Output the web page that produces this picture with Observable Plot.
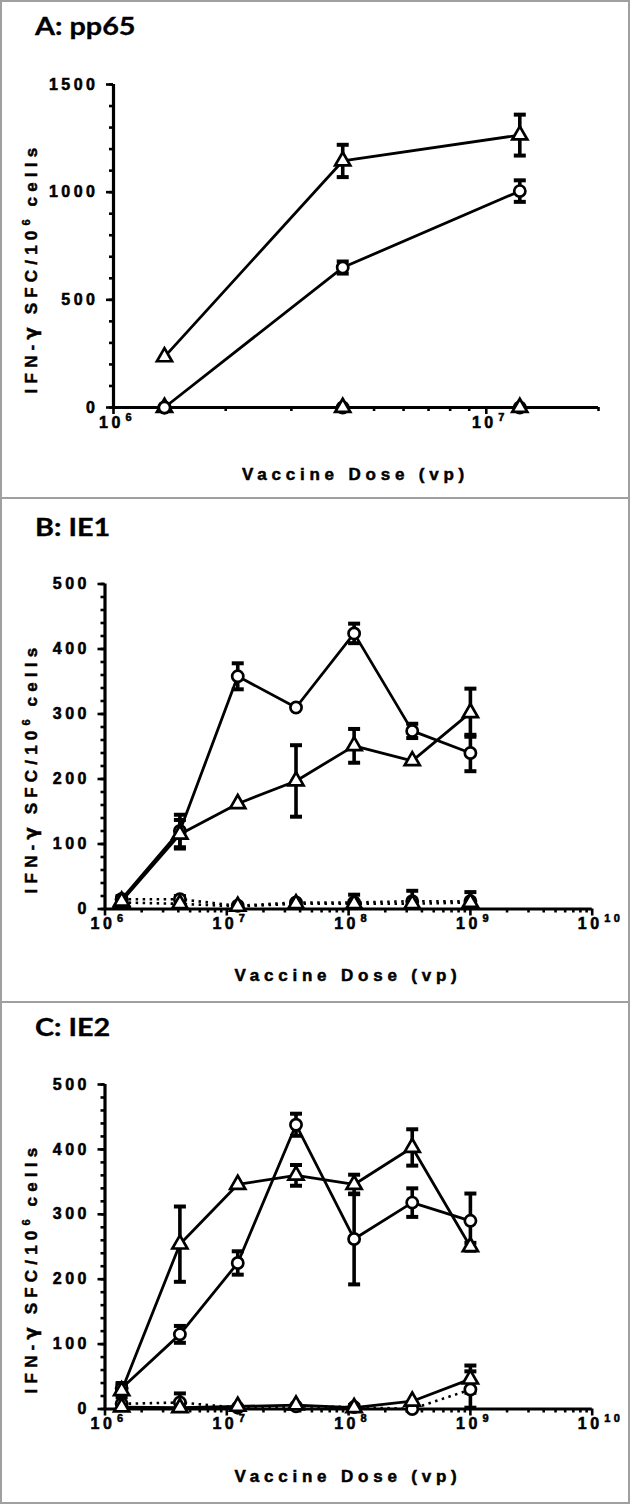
<!DOCTYPE html>
<html>
<head>
<meta charset="utf-8">
<script src="https://cdn.jsdelivr.net/npm/d3@7"></script>
<script src="https://cdn.jsdelivr.net/npm/@observablehq/plot@0.6"></script>
<style>
  body { margin: 0; background: #fff; }
  #page { position: relative; width: 630px; height: 1504px; overflow: hidden; background: #fff; }
  .bd { position: absolute; background: #a0a0a0; }
  .title { position: absolute; font-family: Lato, sans-serif; font-weight: 700; font-size: 24px; line-height: 24px;
           transform-origin: 0 0; transform: scaleX(1.2); white-space: nowrap; color: #000; -webkit-text-stroke: 0.3px #000; }
  .xlab { position: absolute; font-family: "Liberation Sans", Arial, sans-serif; font-weight: 700; font-size: 17px;
          letter-spacing: 4.8px; white-space: nowrap; transform: translate(-50%, -50%); line-height: 17px; color: #000;
          -webkit-text-stroke: 0.5px #000; }
  .ylab { position: absolute; font-family: "Liberation Sans", Arial, sans-serif; font-weight: 700; font-size: 17px;
          letter-spacing: 5.2px; white-space: nowrap; transform: translate(-50%, -50%) rotate(-90deg); line-height: 17px; color: #000;
          -webkit-text-stroke: 0.5px #000; }
  .ylab sup { font-size: 11px; letter-spacing: 3px; vertical-align: 7px; line-height: 0; }
  .ylab .g { font-family: "DejaVu Sans", sans-serif; font-weight: 700; font-size: 18px; letter-spacing: 3px; }
  .psvg { position: absolute; left: 0; }
  .psvg svg text { font-weight: bold; stroke: #000; stroke-width: 0.55px; paint-order: stroke; }
</style>
</head>
<body>
<div id="page"></div>
<script>
// ---------------- DATA ----------------
const doses = [1.37e6, 4.12e6, 1.23e7, 3.7e7, 1.11e8, 3.33e8, 1e9];

// Panel A: pp65
const aCircle        = [0, 650, 1005];
const aCircleErr     = [0, 28, 50];
const aTriangle      = [235, 1145, 1265];
const aTriangleErr   = [0, 75, 95];
const aCircleCtrl    = [0, 0, 0];
const aTriangleCtrl  = [0, 0, 0];

// Panel B: IE1
const bCircle        = [15, 120, 358, 310, 424, 274, 240];
const bCircleErr     = [5, 25, 20, 0, 15, 11, 28];
const bTriangle      = [12, 115, 162, 197, 251, 228, 302];
const bTriangleErr   = [0, 22, 0, 55, 26, 0, 37];
const bCircleCtrl    = [15, 15, 5, 10, 10, 12, 12];
const bCircleCtrlErr = [4, 5, 0, 0, 12, 16, 14];
const bTriangleCtrl  = [10, 8, 4, 8, 8, 8, 10];

// Panel C: IE2
const cCircle        = [32, 115, 225, 438, 262, 318, 290];
const cCircleErr     = [8, 13, 18, 17, 70, 22, 42];
const cTriangle      = [28, 254, 346, 360, 346, 403, 250];
const cTriangleErr   = [10, 58, 0, 16, 15, 28, 6];
const cTriangleLow   = [3, 2, 4, 6, 2, 12, 46];
const cTriangleLowErr= [0, 0, 0, 0, 0, 0, 21];
const cCircleLow     = [8, 10, 2, 4, 3, 0, 30];
const cCircleLowErr  = [0, 14, 0, 0, 3, 0, 28];

// Tick labels
const xExpA  = [6, 7];
const xExpBC = [6, 7, 8, 9, 10];
const yTicksA  = [0, 500, 1000, 1500];
const yTicksBC = [0, 100, 200, 300, 400, 500];

const titles = ["A: pp65", "B: IE1", "C: IE2"];
const xTitle = "Vaccine Dose (vp)";

// ---------------- DRAWING ----------------
const page = document.getElementById("page");

function addDiv(cls, style, html) {
  const d = document.createElement("div");
  d.className = cls;
  Object.assign(d.style, style);
  if (html != null) d.innerHTML = html;
  page.appendChild(d);
  return d;
}

const cap = { draw(ctx) { ctx.moveTo(-6, -2); ctx.lineTo(6, -2); ctx.lineTo(6, 2); ctx.lineTo(-6, 2); ctx.closePath(); } };

function makePanel(cfg) {
  const { svgTop, height, ml, mr, mt, mb, xDomain, xExp, yMax, yMajor, yMinorStep, series } = cfg;
  const xMajor = xExp.map(e => Math.pow(10, e));
  const xMinor = [];
  for (let e = xExp[0]; e <= xExp[xExp.length - 1]; e++) {
    for (let k = 2; k <= 9; k++) {
      const v = k * Math.pow(10, e);
      if (v <= xDomain[1] * 1.0001) xMinor.push(v);
    }
  }
  const yMinor = d3.range(0, yMax + 0.1, yMinorStep);
  const rows = s => s.values.map((v, i) => ({ dose: doses[i], value: v, err: s.errs ? s.errs[i] : 0 }));

  const marks = [];
  marks.push(Plot.axisY({ ticks: yMinor, tickSize: 4, tickFormat: () => "", strokeWidth: 2.6, label: null }));
  marks.push(Plot.axisY({ ticks: yMajor, tickSize: 7, tickFormat: () => "", strokeWidth: 2.6, label: null }));
  marks.push(Plot.axisX({ ticks: xMinor, tickSize: 4, tickFormat: () => "", strokeWidth: 2.6, label: null }));
  marks.push(Plot.axisX({ ticks: xMajor, tickSize: 7, tickFormat: () => "", strokeWidth: 2.6, label: null }));
  // y tick labels
  marks.push(Plot.text(yMajor, { y: d => d, frameAnchor: "left", dx: -15, textAnchor: "end", text: d => String(d),
                                 fontSize: 16, fontWeight: "bold" }));
  // x tick labels 10^n
  marks.push(Plot.text(xMajor, { x: d => d, frameAnchor: "bottom", dy: 20, dx: -2, text: () => "10",
                                 fontSize: 16, fontWeight: "bold" }));
  marks.push(Plot.text(xMajor, { x: d => d, frameAnchor: "bottom", dy: 13, dx: 12, textAnchor: "start",
                                 text: d => String(Math.round(Math.log10(d))), fontSize: 11, fontWeight: "bold" }));
  marks.push(Plot.ruleY([0], { x1: xDomain[0], x2: xDomain[1], strokeWidth: 3.2 }));
  marks.push(Plot.ruleX([xDomain[0]], { y1: 0, y2: yMax, strokeWidth: 3.2 }));

  for (const s of series) {
    marks.push(Plot.line(rows(s), { x: "dose", y: "value", stroke: "black",
      strokeWidth: s.dotted ? 2.6 : 2.8, strokeDasharray: s.dotted ? "2.5,4.5" : null,
      strokeLinecap: s.dotted ? "butt" : "round" }));
  }
  for (const s of series) {
    const d = rows(s).filter(r => r.err > 0);
    marks.push(Plot.ruleX(d, { x: "dose", y1: r => Math.max(0, r.value - r.err), y2: r => r.value + r.err, strokeWidth: 3.6 }));
    marks.push(Plot.dot(d, { x: "dose", y: r => r.value + r.err, symbol: cap, fill: "black", r: 6 }));
    marks.push(Plot.dot(d.filter(r => r.value - r.err > 0), { x: "dose", y: r => r.value - r.err, symbol: cap, fill: "black", r: 6 }));
  }
  for (const s of series) {
    marks.push(Plot.dot(rows(s), { x: "dose", y: "value", symbol: s.symbol, r: 5.6,
      fill: "white", stroke: "black", strokeWidth: 2.7 }));
  }

  const svg = Plot.plot({
    width: 630, height,
    marginLeft: ml, marginRight: mr, marginTop: mt, marginBottom: mb,
    x: { type: "log", domain: xDomain, label: null },
    y: { domain: [0, yMax], label: null },
    style: { fontFamily: "'Liberation Sans', Arial, sans-serif", fontSize: "16px", letterSpacing: "3.5px",
             background: "transparent", color: "black", overflow: "visible" },
    marks
  });
  const holder = addDiv("psvg", { top: svgTop + "px" });
  holder.appendChild(svg);
}

// panel borders
addDiv("bd", { left: "0px", top: "0px", width: "630px", height: "2px" });
addDiv("bd", { left: "0px", top: "497px", width: "630px", height: "2px" });
addDiv("bd", { left: "0px", top: "1001px", width: "630px", height: "2px" });
addDiv("bd", { left: "0px", top: "1502px", width: "630px", height: "2px" });
addDiv("bd", { left: "0px", top: "0px", width: "2px", height: "1504px" });
addDiv("bd", { left: "628px", top: "0px", width: "2px", height: "1504px" });

makePanel({
  svgTop: 0, height: 498, ml: 113, mr: 32, mt: 84, mb: 91,
  xDomain: [1e6, 2e7], xExp: xExpA, yMax: 1500, yMajor: yTicksA, yMinorStep: 100,
  series: [
    { values: aCircleCtrl, symbol: "circle", dotted: true },
    { values: aTriangleCtrl, symbol: "triangle", dotted: true },
    { values: aCircle, errs: aCircleErr, symbol: "circle" },
    { values: aTriangle, errs: aTriangleErr, symbol: "triangle" }
  ]
});
makePanel({
  svgTop: 498, height: 504, ml: 104.5, mr: 38.3, mt: 85.5, mb: 93.5,
  xDomain: [1e6, 1e10], xExp: xExpBC, yMax: 500, yMajor: yTicksBC, yMinorStep: 20,
  series: [
    { values: bCircleCtrl, errs: bCircleCtrlErr, symbol: "circle", dotted: true },
    { values: bTriangleCtrl, symbol: "triangle", dotted: true },
    { values: bCircle, errs: bCircleErr, symbol: "circle" },
    { values: bTriangle, errs: bTriangleErr, symbol: "triangle" }
  ]
});
makePanel({
  svgTop: 1002, height: 502, ml: 104.5, mr: 38.3, mt: 82, mb: 95.5,
  xDomain: [1e6, 1e10], xExp: xExpBC, yMax: 500, yMajor: yTicksBC, yMinorStep: 20,
  series: [
    { values: cCircleLow, errs: cCircleLowErr, symbol: "circle", dotted: true },
    { values: cTriangleLow, errs: cTriangleLowErr, symbol: "triangle" },
    { values: cCircle, errs: cCircleErr, symbol: "circle" },
    { values: cTriangle, errs: cTriangleErr, symbol: "triangle" }
  ]
});

// titles and axis titles
const titleTops = [13.7, 514.7, 1014.7];
const xLab = [[355.5, 474], [348, 975], [348, 1476]];
const yLab = [[31, 268], [31, 768], [31, 1268]];
titles.forEach((t, i) => {
  addDiv("title", { left: "35px", top: titleTops[i] + "px" }, t);
  const xl = addDiv("xlab", { left: xLab[i][0] + "px", top: xLab[i][1] + "px" });
  xl.textContent = xTitle;
  addDiv("ylab", { left: yLab[i][0] + "px", top: yLab[i][1] + "px" }, "IFN-<span class=\"g\">γ</span> SFC/10<sup>6</sup> cells");
});
</script>
</body>
</html>
